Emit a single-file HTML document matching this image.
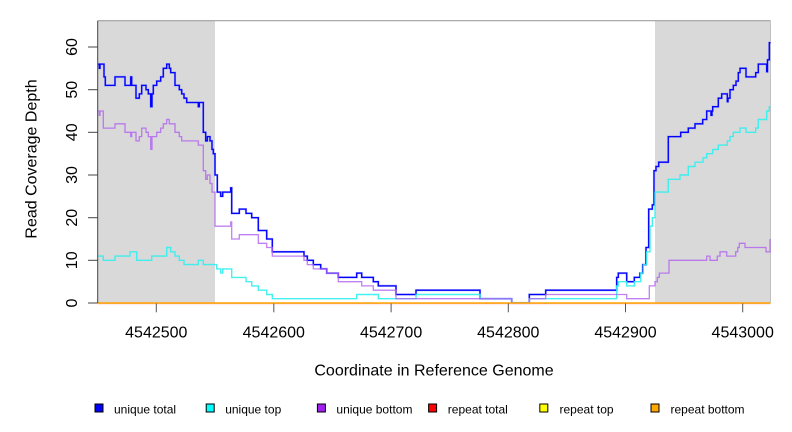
<!DOCTYPE html>
<html>
<head>
<meta charset="utf-8">
<style>
html,body{margin:0;padding:0;background:#fff;}
svg{display:block;font-family:"Liberation Sans",Arial,sans-serif;}
</style>
</head>
<body>
<svg width="792" height="432" viewBox="0 0 792 432" xmlns="http://www.w3.org/2000/svg">
  <rect x="0" y="0" width="792" height="432" fill="#fff"/>
  <!-- shaded regions -->
  <rect x="97.7" y="20.7" width="117.3" height="282.3" fill="#d9d9d9"/>
  <rect x="655" y="20.7" width="115.5" height="282.3" fill="#d9d9d9"/>
  <!-- plot border -->
  <line x1="97.7" y1="20.7" x2="770.5" y2="20.7" stroke="#a0a0a0" stroke-width="1.2"/>
  <line x1="770.5" y1="20.7" x2="770.5" y2="303" stroke="#c0c0c0" stroke-width="1"/>

  <!-- unique total -->
  <path fill="none" stroke="#7a7aff" stroke-width="2.2" stroke-linejoin="miter" opacity="0.55" d="M97.7 64.1 H99.3 V68.3 H100 V64.1 H104 V76.9 H105.3 V85.4 H115 V76.9 H125 V85.4 H130.7 V76.9 H131.7 V85.4 H136 V98.2 H139.3 V93.9 H141.7 V85.4 H146 V89.7 H148.3 V93.9 H150.7 V106.7 H152 V93.9 H153.3 V85.4 H156.7 V81.1 H160.7 V76.9 H163.3 V68.3 H166.7 V64.1 H169.3 V68.3 H170.7 V72.6 H175 V85.4 H179.3 V89.7 H181.7 V93.9 H184 V98.2 H186.7 V102.5 H198.3 V106.7 H199.3 V102.5 H203.3 V132.3 H205.7 V140.9 H207.3 V136.6 H210 V140.9 H212 V149.4 H213.3 V153.7 H215 V175 H217.3 V192.1 H220.7 V196.3 H222.7 V192.1 H230.7 V187.8 H231.7 V213.4 H239.3 V209.1 H246 V213.4 H251.7 V217.7 H258.3 V230.5 H266.7 V239 H272.3 V251.8 H304 V256.1 H307.3 V260.3 H313.3 V264.6 H320.7 V268.9 H326.7 V273.1 H338.3 V277.4 H356.7 V273.1 H361.7 V277.4 H373.3 V281.7 H378.3 V285.9 H396 V294.5 H416 V290.2 H480 V298.7 H511.7 V303 H529.3 V294.5 H545.7 V290.2 H616.7 V277.4 H618.3 V273.1 H626.7 V281.7 H634.3 V277.4 H640 V273.1 H642.7 V264.6 H646 V247.5 H648.7 V209.1 H652.3 V204.9 H654 V170.7 H656 V166.5 H658.7 V162.2 H668.3 V136.6 H680.7 V132.3 H688.3 V128.1 H695 V123.8 H702.7 V119.5 H706.7 V111 H711 V115.3 H712 V111 H712.7 V106.7 H718.3 V98.2 H721.7 V93.9 H727.3 V101.7 H728 V98.2 H730 V89.7 H733.3 V85.4 H736 V81.1 H738.3 V72.6 H740 V68.3 H746 V76.9 H755.7 V72.6 H758.3 V64.1 H766.7 V71.7 H767.5 V59.8 H769.3 V42.7 H770.5"/>
  <path fill="none" stroke="#0000ff" stroke-width="1.3" stroke-linejoin="miter" d="M97.7 64.1 H99.3 V68.3 H100 V64.1 H104 V76.9 H105.3 V85.4 H115 V76.9 H125 V85.4 H130.7 V76.9 H131.7 V85.4 H136 V98.2 H139.3 V93.9 H141.7 V85.4 H146 V89.7 H148.3 V93.9 H150.7 V106.7 H152 V93.9 H153.3 V85.4 H156.7 V81.1 H160.7 V76.9 H163.3 V68.3 H166.7 V64.1 H169.3 V68.3 H170.7 V72.6 H175 V85.4 H179.3 V89.7 H181.7 V93.9 H184 V98.2 H186.7 V102.5 H198.3 V106.7 H199.3 V102.5 H203.3 V132.3 H205.7 V140.9 H207.3 V136.6 H210 V140.9 H212 V149.4 H213.3 V153.7 H215 V175 H217.3 V192.1 H220.7 V196.3 H222.7 V192.1 H230.7 V187.8 H231.7 V213.4 H239.3 V209.1 H246 V213.4 H251.7 V217.7 H258.3 V230.5 H266.7 V239 H272.3 V251.8 H304 V256.1 H307.3 V260.3 H313.3 V264.6 H320.7 V268.9 H326.7 V273.1 H338.3 V277.4 H356.7 V273.1 H361.7 V277.4 H373.3 V281.7 H378.3 V285.9 H396 V294.5 H416 V290.2 H480 V298.7 H511.7 V303 H529.3 V294.5 H545.7 V290.2 H616.7 V277.4 H618.3 V273.1 H626.7 V281.7 H634.3 V277.4 H640 V273.1 H642.7 V264.6 H646 V247.5 H648.7 V209.1 H652.3 V204.9 H654 V170.7 H656 V166.5 H658.7 V162.2 H668.3 V136.6 H680.7 V132.3 H688.3 V128.1 H695 V123.8 H702.7 V119.5 H706.7 V111 H711 V115.3 H712 V111 H712.7 V106.7 H718.3 V98.2 H721.7 V93.9 H727.3 V101.7 H728 V98.2 H730 V89.7 H733.3 V85.4 H736 V81.1 H738.3 V72.6 H740 V68.3 H746 V76.9 H755.7 V72.6 H758.3 V64.1 H766.7 V71.7 H767.5 V59.8 H769.3 V42.7 H770.5"/>

  <!-- unique top -->
  <path fill="none" stroke="#30f0f0" stroke-width="1.4" opacity="0.9" d="M97.7 256.1 H103.3 V260.3 H115 V256.1 H130 V251.8 H136.7 V260.3 H151.7 V256.1 H166.7 V247.5 H170.7 V251.8 H175 V256.1 H179.3 V260.3 H184 V264.6 H198.3 V260.3 H203.3 V264.6 H216.7 V268.9 H220.7 V273.1 H222.7 V268.9 H231.7 V277.4 H246 V281.7 H251.7 V285.9 H258.3 V290.2 H266.7 V294.5 H272.3 V298.7 H356.7 V294.5 H378.3 V298.7 H416 V294.5 H480 V298.7 H511.7 V303 H529.3 V298.7 H616.7 V285.9 H618.3 V281.7 H626.7 V285.9 H634.3 V281.7 H640.7 V273.1 H643.3 V264.6 H646.7 V251.8 H650 V226.2 H652.3 V217.7 H655 V192.1 H668.3 V179.3 H680 V175 H688.3 V166.5 H695 V162.2 H703 V157.9 H706.7 V153.7 H712.7 V149.4 H718.3 V145.1 H727.3 V140.9 H730 V136.6 H733.3 V132.3 H740 V128.1 H746 V132.3 H755.7 V128.1 H758.3 V119.5 H766.7 V111 H769.3 V106.7 H770.5"/>

  <!-- unique bottom -->
  <path fill="none" stroke="#b060f0" stroke-width="1.3" opacity="0.8" d="M97.7 111 H99.3 V115.3 H100 V111 H103.3 V128.1 H115 V123.8 H125 V132.3 H130.7 V136.6 H131.7 V132.3 H136 V140.9 H139.3 V136.6 H141.7 V128.1 H146 V132.3 H148.3 V136.6 H150.7 V149.4 H152 V136.6 H156.7 V132.3 H160.7 V128.1 H163.3 V123.8 H166.7 V119.5 H169.3 V123.8 H175 V132.3 H179.3 V136.6 H181.7 V140.9 H198.3 V145.1 H203.3 V170.7 H205.7 V179.3 H207.3 V175 H210 V183.5 H212 V192.1 H215 V226.2 H230.7 V221.9 H231.7 V239 H239.3 V234.7 H258.3 V243.3 H266.7 V247.5 H272.3 V256.1 H304 V260.3 H307.3 V264.6 H313.3 V268.9 H326.7 V273.1 H338.3 V281.7 H361.7 V285.9 H373.3 V290.2 H396 V298.7 H511.7 V303 H529.3 V298.7 H545.7 V294.5 H626.7 V298.7 H649.3 V285.9 H655 V281.7 H657.3 V277.4 H659.3 V273.1 H669 V260.3 H706.7 V256.1 H710 V260.3 H717.3 V256.1 H720 V251.8 H726.7 V256.1 H735.7 V251.8 H737.7 V247.5 H739.3 V243.3 H745 V247.5 H766 V251.8 H770 V239"/>

  <!-- repeat series at zero -->
  <line x1="97.7" y1="303.8" x2="770.5" y2="303.8" stroke="#ffb0b0" stroke-width="1"/>
  <line x1="97.7" y1="303" x2="770.5" y2="303" stroke="#ffa500" stroke-width="1.4"/>

  <!-- y axis -->
  <line x1="97.7" y1="20.7" x2="97.7" y2="303" stroke="#444" stroke-width="1"/>
  <g stroke="#444" stroke-width="1">
    <line x1="88" y1="303" x2="97.7" y2="303"/>
    <line x1="88" y1="260.3" x2="97.7" y2="260.3"/>
    <line x1="88" y1="217.7" x2="97.7" y2="217.7"/>
    <line x1="88" y1="175" x2="97.7" y2="175"/>
    <line x1="88" y1="132.3" x2="97.7" y2="132.3"/>
    <line x1="88" y1="89.7" x2="97.7" y2="89.7"/>
    <line x1="88" y1="47" x2="97.7" y2="47"/>
  </g>
  <g font-size="16" fill="#000" text-anchor="middle">
    <text x="77" y="303" transform="rotate(-90 77 303)">0</text>
    <text x="77" y="260.3" transform="rotate(-90 77 260.3)">10</text>
    <text x="77" y="217.7" transform="rotate(-90 77 217.7)">20</text>
    <text x="77" y="175" transform="rotate(-90 77 175)">30</text>
    <text x="77" y="132.3" transform="rotate(-90 77 132.3)">40</text>
    <text x="77" y="89.7" transform="rotate(-90 77 89.7)">50</text>
    <text x="77" y="47" transform="rotate(-90 77 47)">60</text>
  </g>
  <text x="36.5" y="159" font-size="16" text-anchor="middle" transform="rotate(-90 36.5 159)">Read Coverage Depth</text>

  <!-- x axis ticks -->
  <g stroke="#555" stroke-width="1">
    <line x1="156.3" y1="303.5" x2="156.3" y2="312.3"/>
    <line x1="273.8" y1="303.5" x2="273.8" y2="312.3"/>
    <line x1="391.1" y1="303.5" x2="391.1" y2="312.3"/>
    <line x1="508.3" y1="303.5" x2="508.3" y2="312.3"/>
    <line x1="625.5" y1="303.5" x2="625.5" y2="312.3"/>
    <line x1="742.7" y1="303.5" x2="742.7" y2="312.3"/>
  </g>
  <g font-size="16" fill="#000" text-anchor="middle">
    <text x="156.3" y="337.7">4542500</text>
    <text x="273.8" y="337.7">4542600</text>
    <text x="391.1" y="337.7">4542700</text>
    <text x="508.3" y="337.7">4542800</text>
    <text x="625.5" y="337.7">4542900</text>
    <text x="742.7" y="337.7">4543000</text>
  </g>
  <text x="434" y="375.7" font-size="16" text-anchor="middle">Coordinate in Reference Genome</text>

  <!-- legend -->
  <g stroke="#000" stroke-width="1">
    <rect x="95" y="404" width="8" height="8" fill="#0000ff"/>
    <rect x="206.2" y="404" width="8" height="8" fill="#00ffff"/>
    <rect x="317.4" y="404" width="8" height="8" fill="#a020f0"/>
    <rect x="428.6" y="404" width="8" height="8" fill="#ff0000"/>
    <rect x="539.8" y="404" width="8" height="8" fill="#ffff00"/>
    <rect x="651" y="404" width="8" height="8" fill="#ffa500"/>
  </g>
  <g font-size="12" fill="#000">
    <text x="114" y="413.3">unique total</text>
    <text x="225.2" y="413.3">unique top</text>
    <text x="336.4" y="413.3">unique bottom</text>
    <text x="447.8" y="413.3">repeat total</text>
    <text x="559.5" y="413.3">repeat top</text>
    <text x="670.5" y="413.3">repeat bottom</text>
  </g>
</svg>
</body>
</html>
